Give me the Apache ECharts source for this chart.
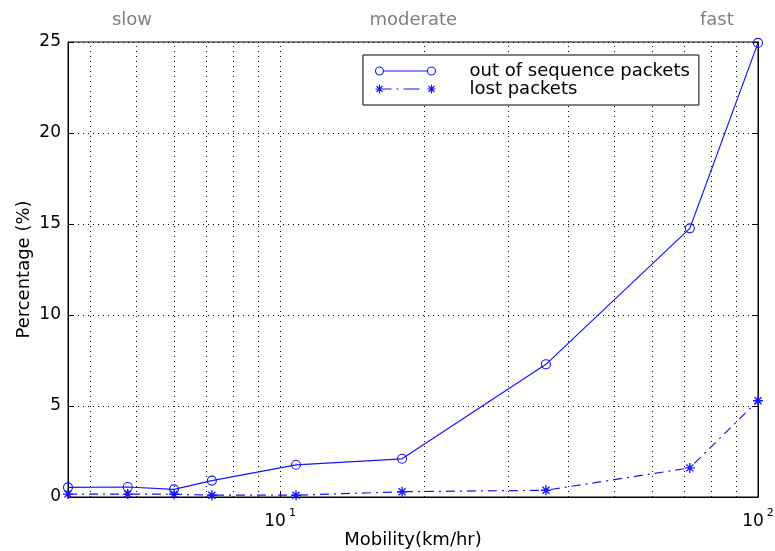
<!DOCTYPE html>
<html>
<head>
<meta charset="utf-8">
<script src="https://cdn.jsdelivr.net/npm/echarts@6/dist/echarts.min.js"></script>
<style>
  html, body { margin: 0; padding: 0; background: #ffffff; }
  #chart { width: 775px; height: 551px; }
</style>
</head>
<body>
<div id="chart"></div>
<script>
// Mobility speeds (km/hr) at which both measurements were taken
const speeds = [3.6, 4.8, 6, 7.2, 10.8, 18, 36, 72, 100];
// Percentage of packets delivered out of sequence
const outOfSequence = [0.53, 0.55, 0.42, 0.9, 1.77, 2.1, 7.29, 14.76, 24.95];
// Percentage of packets lost
const lostPackets = [0.16, 0.16, 0.15, 0.1, 0.1, 0.29, 0.37, 1.6, 5.29];
// Series names
const seriesNames = ['out of sequence packets', 'lost packets'];
// Y axis ticks
const yTicks = [0, 5, 10, 15, 20, 25];
// Intermediate log grid lines
const minorGridX = [4, 5, 6, 7, 8, 9, 10, 20, 30, 40, 50, 60, 70, 80, 90];
// Speed regime labels along the top, with the speed each is centred on
const speedBands = ['slow', 'moderate', 'fast'];
const speedBandCentres = [4.9, 19, 82];

const BLUE = '#1515ff';
const FONT = 'DejaVu Sans';

// Legend icons: line with a marker at each end
const circleIcon = 'path://M0,5 A4,4 0 1 1 8,5 A4,4 0 1 1 0,5 M8,5 L52,5 M52,5 A4,4 0 1 1 60,5 A4,4 0 1 1 52,5';
const starIcon = 'path://M4,0.5 L4,9.5 M0,5 L8,5 M1,2 L7,8 M7,2 L1,8 ' +
  'M8,5 L16,5 M21,5 L23,5 M28,5 L44,5 ' +
  'M56,0.5 L56,9.5 M52,5 L60,5 M53,2 L59,8 M59,2 L53,8';
const starSymbol = 'path://M5,0 L5,10 M0,5 L10,5 M1.5,1.5 L8.5,8.5 M8.5,1.5 L1.5,8.5';

const chart = echarts.init(document.getElementById('chart'));

const option = {
  backgroundColor: '#ffffff',
  animation: false,
  textStyle: { fontFamily: FONT },
  grid: {
    left: 68, right: 17, top: 42, bottom: 54,
    outerBoundsMode: 'none',
    containLabel: false,
    show: true, borderColor: '#000000', borderWidth: 1
  },
  legend: {
    orient: 'vertical',
    left: 363, top: 55,
    padding: [7, 9, 7, 10],
    itemGap: 0,
    itemWidth: 60,
    itemHeight: 10,
    borderColor: '#000000',
    borderWidth: 1,
    backgroundColor: '#ffffff',
    textStyle: { fontFamily: FONT, fontSize: 18, color: '#000000', lineHeight: 16, padding: [0, 0, 0, 29] },
    data: [
      { name: seriesNames[0], icon: circleIcon,
        itemStyle: { color: 'none', borderColor: BLUE, borderWidth: 1.1 } },
      { name: seriesNames[1], icon: starIcon,
        itemStyle: { color: 'none', borderColor: BLUE, borderWidth: 1.1 } }
    ]
  },
  xAxis: {
    type: 'log',
    logBase: 10,
    min: speeds[0],
    max: speeds[speeds.length - 1],
    name: 'Mobility(km/hr)',
    nameLocation: 'middle',
    nameGap: 34,
    nameMoveOverlap: false,
    nameTextStyle: { fontFamily: FONT, fontSize: 18, color: '#000000' },
    axisLine: { show: true, lineStyle: { color: '#000000' } },
    axisTick: { show: true, inside: true, length: 5, lineStyle: { color: '#000000' } },
    splitLine: { show: false },
    axisLabel: {
      margin: 11,
      color: '#000000',
      formatter: function (v) {
        const e = Math.log10(v);
        if (Math.abs(e - Math.round(e)) < 1e-6) {
          return '{b|10}{s|' + Math.round(e) + '}';
        }
        return '';
      },
      rich: {
        b: { fontFamily: FONT, fontSize: 17, color: '#000000', verticalAlign: 'bottom' },
        s: { fontFamily: FONT, fontSize: 11, color: '#000000', verticalAlign: 'top', padding: [0, 0, 11, 3] }
      }
    }
  },
  yAxis: [
    {
      type: 'value',
      min: yTicks[0],
      max: yTicks[yTicks.length - 1],
      interval: 5,
      name: 'Percentage (%)',
      nameLocation: 'middle',
      nameGap: 35,
      nameMoveOverlap: false,
      nameTextStyle: { fontFamily: FONT, fontSize: 18, color: '#000000' },
      axisLine: { show: true, lineStyle: { color: '#000000' } },
      axisTick: { show: true, inside: true, length: 6, lineStyle: { color: '#000000' } },
      axisLabel: { color: '#000000', fontFamily: FONT, fontSize: 17, margin: 7 },
      splitLine: { show: true, lineStyle: { color: '#000000', type: [1, 4], width: 1 } }
    },
    {
      type: 'value',
      position: 'right',
      min: yTicks[0],
      max: yTicks[yTicks.length - 1],
      interval: 5,
      axisLine: { show: true, lineStyle: { color: '#000000' } },
      axisTick: { show: true, inside: true, length: 6, lineStyle: { color: '#000000' } },
      axisLabel: { show: false },
      splitLine: { show: false }
    }
  ],
  series: [
    {
      name: seriesNames[0],
      type: 'line',
      data: speeds.map((s, i) => [s, outOfSequence[i]]),
      symbol: 'circle',
      symbolSize: 9,
      color: BLUE,
      itemStyle: { color: 'none', borderColor: BLUE, borderWidth: 1.1 },
      lineStyle: { color: BLUE, width: 1.2 },
      z: 3,
      markLine: {
        silent: true,
        symbol: 'none',
        label: { show: false },
        lineStyle: { color: '#000000', type: [1, 4], width: 1 },
        data: minorGridX.map(v => ({ xAxis: v })),
        z: 1
      }
    },
    {
      name: seriesNames[1],
      type: 'line',
      data: speeds.map((s, i) => [s, lostPackets[i]]),
      symbol: starSymbol,
      symbolSize: 10,
      color: BLUE,
      itemStyle: { color: 'none', borderColor: BLUE, borderWidth: 1.4 },
      lineStyle: { color: BLUE, width: 1.2, type: [9, 5, 2, 5] },
      z: 3
    }
  ]
};

chart.setOption(option);

// Speed regime labels above the plot, placed on the mobility axis
chart.setOption({
  graphic: speedBands.map((txt, i) => ({
    type: 'text',
    x: chart.convertToPixel({ xAxisIndex: 0 }, speedBandCentres[i]),
    y: 20,
    style: {
      text: txt,
      fill: '#808080',
      font: '18px "' + FONT + '"',
      align: 'center',
      verticalAlign: 'middle'
    }
  }))
});
</script>
</body>
</html>
